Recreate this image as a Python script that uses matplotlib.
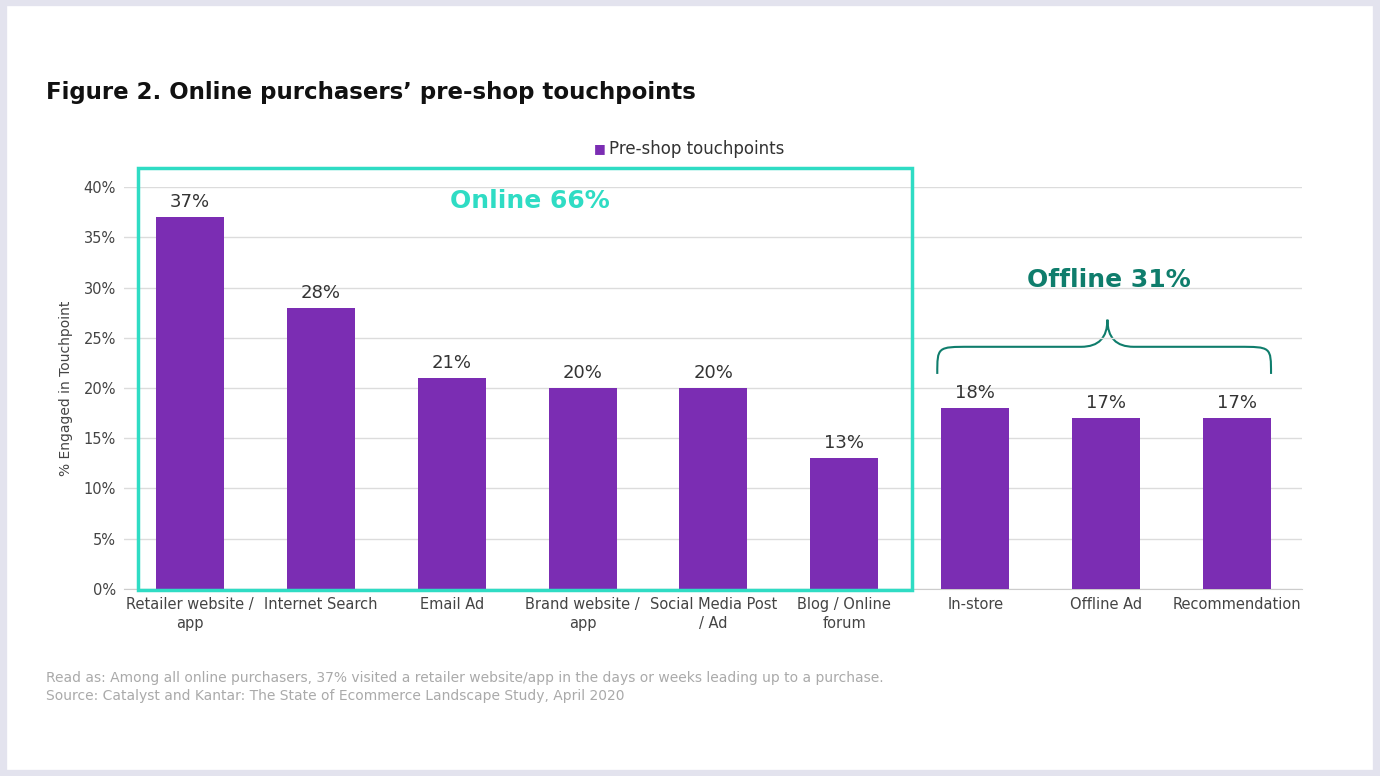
import matplotlib
matplotlib.use("Agg")
import matplotlib.pyplot as plt
from matplotlib.patches import Rectangle, PathPatch
from matplotlib.path import Path

categories = ["Retailer website /\napp", "Internet Search", "Email Ad", "Brand website /\napp",
              "Social Media Post\n/ Ad", "Blog / Online\nforum", "In-store", "Offline Ad", "Recommendation"]
values = [37, 28, 21, 20, 20, 13, 18, 17, 17]
yticks = [0, 5, 10, 15, 20, 25, 30, 35, 40]
purple = "#7B2DB3"

fig = plt.figure(figsize=(13.8, 7.76), dpi=100)
fig.patches.append(Rectangle((0.002, 0.003), 0.996, 0.994, transform=fig.transFigure,
                             fill=False, edgecolor="#e3e3ee", linewidth=6))
ax = fig.add_axes([0.0902, 0.241, 0.8536, 0.518])
x = list(range(len(categories)))
ax.bar(x, values, width=0.52, color=purple, zorder=3)
for xi, v in zip(x, values):
    ax.text(xi, v + 0.6, f"{v}%", ha="center", va="bottom", fontsize=13, color="#333333")
ax.set_xlim(-0.5, 8.5)
ax.set_ylim(0, 40)
ax.set_yticks(yticks)
ax.set_yticklabels([f"{t}%" for t in yticks], fontsize=10.5, color="#444444")
ax.set_xticks(x)
ax.set_xticklabels(categories, fontsize=10.5, color="#444444", linespacing=1.3)
ax.tick_params(length=0, pad=6)
ax.yaxis.grid(True, color="#dcdcdc", linewidth=1, zorder=0)
for s in ax.spines.values():
    s.set_visible(False)
ax.spines["bottom"].set_visible(True)
ax.spines["bottom"].set_color("#cccccc")
ax.set_ylabel("% Engaged in Touchpoint", fontsize=10, color="#444444", labelpad=8)

ax.add_patch(Rectangle((-0.397, -0.1), 5.917, 42.0, fill=False, edgecolor="#2fdcc4",
                       linewidth=2.5, clip_on=False, zorder=4))
ax.text(2.6, 38.6, "Online 66%", ha="center", va="center", fontsize=18, fontweight="bold",
        color="#2fdcc4")
ax.text(7.02, 30.7, "Offline 31%", ha="center", va="center", fontsize=18, fontweight="bold",
        color="#0f7d6c")
x0, x1, xm = 5.71, 8.26, 7.01
yb, yh, yp = 21.4, 24.1, 26.8
verts = [(x0, yb), (x0, yh), (x0, yh), (x0 + 0.25, yh), (xm - 0.2, yh), (xm, yh), (xm, yp),
         (xm, yh), (xm + 0.2, yh), (x1 - 0.25, yh), (x1, yh), (x1, yh), (x1, yb)]
codes = [Path.MOVETO, Path.CURVE4, Path.CURVE4, Path.CURVE4, Path.LINETO, Path.CURVE3, Path.CURVE3,
         Path.CURVE3, Path.CURVE3, Path.LINETO, Path.CURVE4, Path.CURVE4, Path.CURVE4]
ax.add_patch(PathPatch(Path(verts, codes), fill=False, edgecolor="#0f7d6c", linewidth=1.5,
                       clip_on=False))

fig.text(0.033, 0.881, "Figure 2. Online purchasers’ pre-shop touchpoints", fontsize=16.5,
         fontweight="bold", color="#111111", va="center")
fig.text(0.430, 0.808, "■", fontsize=9, color=purple, va="center")
fig.text(0.441, 0.808, "Pre-shop touchpoints", fontsize=12, color="#333333", va="center")
fig.text(0.033, 0.126, "Read as: Among all online purchasers, 37% visited a retailer website/app in the days or weeks leading up to a purchase.",
         fontsize=10, color="#aaaaaa", va="center")
fig.text(0.033, 0.103, "Source: Catalyst and Kantar: The State of Ecommerce Landscape Study, April 2020",
         fontsize=10, color="#aaaaaa", va="center")
fig.savefig("out.png", dpi=100)
